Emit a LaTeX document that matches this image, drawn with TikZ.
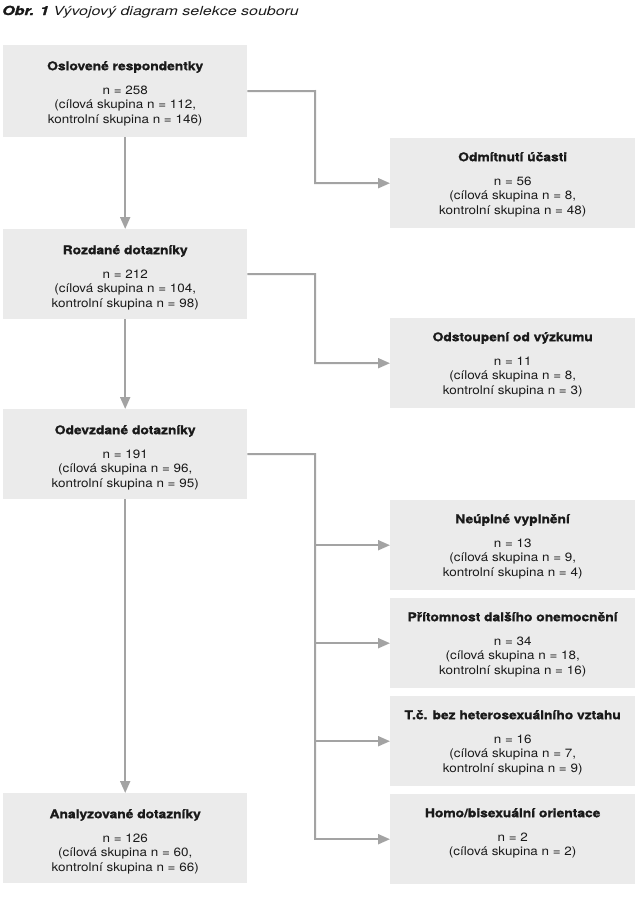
\documentclass[tikz,border=0pt]{standalone}
\usepackage{fontspec}
\setmainfont{TeX Gyre Heros}[FakeStretch=1.12, BoldFeatures={FakeStretch=1.15, FakeBold=1.2}]
\newfontfamily\titlefont{TeX Gyre Heros}[FakeStretch=1.28, BoldItalicFeatures={FakeBold=1.5}]
\usetikzlibrary{arrows.meta,calc}
\definecolor{boxgray}{HTML}{EBEBEB}
\definecolor{linegray}{HTML}{A3A3A3}
\definecolor{txtblack}{HTML}{1A1A1A}
\tikzset{
  box/.style={fill=boxgray, draw=none, inner sep=0pt, anchor=north west},
  lbox/.style={box, minimum width=244pt, minimum height=91pt},
  rbox/.style={box, minimum width=245pt, minimum height=90pt},
  txt/.style={align=center, anchor=north, inner sep=0pt, text=txtblack,
    font=\fontsize{12}{14.5}\selectfont},
  conn/.style={draw=linegray, line width=2pt, -{Triangle[length=12pt,width=10pt]}},
  plainline/.style={draw=linegray, line width=2pt}
}
\begin{document}
\begin{tikzpicture}[x=1pt,y=-1pt]
\useasboundingbox (0,0) rectangle (640,897);
\node[anchor=base west, inner sep=0pt, text=txtblack, font=\titlefont\fontsize{12.5}{14}\selectfont] (title) at (2,15)
  {\textbf{\textit{Obr. 1}} \textit{Vývojový diagram selekce souboru}};

% left boxes
\node[lbox, minimum height=92pt] (L1) at (3,45) {};
\node[lbox, minimum height=90pt] (L2) at (3,229) {};
\node[lbox, minimum height=90pt] (L3) at (3,409) {};
\node[lbox, minimum height=90pt] (L4) at (3,793) {};
% right boxes
\node[rbox] (R1) at (390,138) {};
\node[rbox] (R2) at (390,318) {};
\node[rbox] (R3) at (390,500) {};
\node[rbox] (R4) at (390,598) {};
\node[rbox] (R5) at (390,696) {};
\node[rbox] (R6) at (390,794) {};

% texts
\node[txt] (T1) at ([yshift=-14.85pt]L1.north) {\strut\textbf{Oslovené respondentky}\\[9.5pt] n = 258\\ (cílová skupina n = 112,\\ kontrolní skupina n = 146)};
\node[txt] (T2) at ([yshift=-14.85pt]L2.north) {\strut\textbf{Rozdané dotazníky}\\[9.5pt] n = 212\\ (cílová skupina n = 104,\\ kontrolní skupina n = 98)};
\node[txt] (T3) at ([yshift=-14.85pt]L3.north) {\strut\textbf{Odevzdané dotazníky}\\[9.5pt] n = 191\\ (cílová skupina n = 96,\\ kontrolní skupina n = 95)};
\node[txt] (T4) at ([yshift=-14.85pt]L4.north) {\strut\textbf{Analyzované dotazníky}\\[9.5pt] n = 126\\ (cílová skupina n = 60,\\ kontrolní skupina n = 66)};
\node[txt] (TR1) at ([yshift=-12.85pt]R1.north) {\strut\textbf{Odmítnutí účasti}\\[9.5pt] n = 56\\ (cílová skupina n = 8,\\ kontrolní skupina n = 48)};
\node[txt] (TR2) at ([yshift=-12.85pt]R2.north) {\strut\textbf{Odstoupení od výzkumu}\\[9.5pt] n = 11\\ (cílová skupina n = 8,\\ kontrolní skupina n = 3)};
\node[txt] (TR3) at ([yshift=-12.85pt]R3.north) {\strut\textbf{Neúplné vyplnění}\\[9.5pt] n = 13\\ (cílová skupina n = 9,\\ kontrolní skupina n = 4)};
\node[txt] (TR4) at ([yshift=-12.85pt]R4.north) {\strut\textbf{Přítomnost dalšího onemocnění}\\[9.5pt] n = 34\\ (cílová skupina n = 18,\\ kontrolní skupina n = 16)};
\node[txt] (TR5) at ([yshift=-12.85pt]R5.north) {\strut\textbf{T.č. bez heterosexuálního vztahu}\\[9.5pt] n = 16\\ (cílová skupina n = 7,\\ kontrolní skupina n = 9)};
\node[txt] (TR6) at ([yshift=-12.85pt]R6.north) {\strut\textbf{Homo/bisexuální orientace}\\[9.5pt] n = 2\\ (cílová skupina n = 2)};

% connectors
\draw[conn] (L1.south) -- (L2.north);
\draw[conn] (L2.south) -- (L3.north);
\draw[conn] (L3.south) -- (L4.north);

\coordinate (b1) at (315,91);
\coordinate (b2) at (315,274);
\coordinate (b3) at (315,454);
\draw[conn] (L1.east) -- (b1) |- (R1.west);
\draw[conn] (L2.east) -- (b2) |- (R2.west);
\draw[plainline] (L3.east) -- (b3) -- (b3 |- R6.west);
\draw[conn] (b3 |- R3.west) -- (R3.west);
\draw[conn] (b3 |- R4.west) -- (R4.west);
\draw[conn] (b3 |- R5.west) -- (R5.west);
\draw[conn] ([xshift=-1pt]b3 |- R6.west) -- (R6.west);
\end{tikzpicture}
\end{document}
